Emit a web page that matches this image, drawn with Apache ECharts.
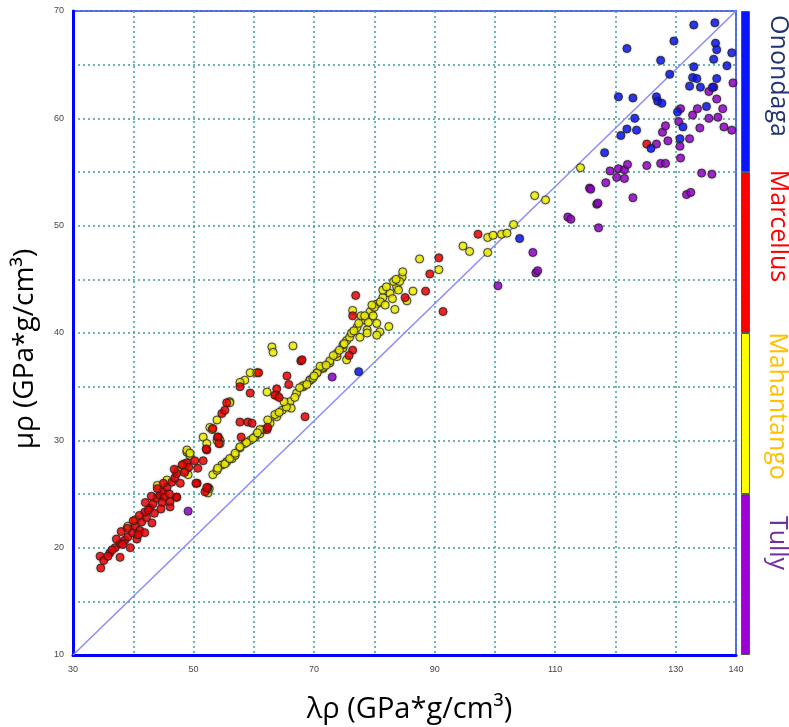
<!DOCTYPE html>
<html>
<head>
<meta charset="utf-8">
<script src="https://cdn.jsdelivr.net/npm/echarts@6/dist/echarts.min.js"></script>
<style>
  html, body { margin: 0; padding: 0; background: #fff; }
  #chart { width: 789px; height: 727px; }
</style>
</head>
<body>
<div id="chart"></div>
<script>
// formations, top to bottom as in the colour bar
const formations = ['Onondaga', 'Marcellus', 'Mahantango', 'Tully'];
const xTickLabels = [30, 50, 70, 90, 110, 130, 140];
const yTickLabels = [10, 20, 30, 40, 50, 60, 70];
// reference line, diagonal of the plot box
const refLine = [[30, 10], [140, 70]];

// [lambda*rho, mu*rho]
const mahantango = [
  [39.1, 22.0], [40.4, 22.6], [44.0, 25.8], [45.6, 26.3], [47.4, 27.2], [48.4, 27.8],
  [48.9, 28.9], [49.4, 28.6], [49.1, 26.8], [48.6, 27.2], [48.9, 29.1], [49.4, 28.8],
  [51.6, 30.3], [52.7, 31.2], [52.2, 29.7], [53.1, 31.0], [53.9, 31.9], [54.4, 30.0],
  [54.4, 29.7], [53.9, 30.0], [56.0, 33.6], [56.0, 33.5], [52.4, 25.1], [52.6, 25.5],
  [53.2, 26.8], [53.9, 27.2], [54.7, 27.7], [55.5, 28.0], [56.4, 28.3], [56.9, 28.6],
  [57.7, 29.3], [58.5, 29.7], [59.4, 30.0], [60.2, 30.3], [61.0, 30.6], [61.5, 31.0],
  [62.7, 31.6], [63.8, 32.2], [54.0, 27.4], [55.2, 27.8], [56.0, 28.3], [56.9, 28.8],
  [57.7, 29.4], [58.8, 29.8], [59.9, 30.2], [61.0, 31.0], [62.3, 31.9], [63.5, 32.4],
  [64.7, 32.8], [66.0, 33.6], [67.1, 34.4], [68.2, 35.0], [69.3, 35.6], [70.5, 36.3],
  [71.5, 36.7], [72.6, 37.2], [73.8, 37.8], [74.8, 38.6], [75.4, 39.3], [66.2, 33.0],
  [65.4, 33.1], [64.2, 32.6], [66.8, 34.0], [62.2, 34.5], [63.8, 34.2], [63.0, 38.7],
  [63.2, 38.2], [66.5, 38.8], [59.4, 36.3], [58.5, 35.6], [60.5, 36.3], [57.7, 35.4],
  [68.2, 35.1], [69.3, 35.6], [70.5, 36.3], [71.5, 36.8], [72.6, 37.4], [73.8, 38.1],
  [74.8, 38.9], [75.9, 39.6], [77.1, 40.5], [78.1, 41.2], [79.3, 42.0], [80.4, 42.7],
  [81.4, 43.3], [82.6, 43.7], [83.7, 44.3], [84.6, 45.2], [84.7, 45.7], [78.8, 40.3],
  [77.6, 39.6], [80.4, 40.9], [83.4, 42.2], [82.4, 40.6], [80.9, 40.1], [80.4, 39.8],
  [78.8, 40.0], [75.4, 37.5], [76.4, 42.1], [81.4, 44.0], [76.2, 40.0], [77.8, 41.6],
  [79.0, 41.0], [80.0, 42.4], [82.0, 44.3], [83.2, 44.8], [84.0, 44.0], [71.0, 36.9],
  [73.2, 37.9], [69.8, 35.8], [86.4, 43.9], [85.4, 43.0], [87.5, 46.9], [90.7, 45.9],
  [94.7, 48.1], [95.8, 47.6], [98.8, 48.9], [99.7, 49.1], [101.1, 49.2], [102.0, 49.3],
  [103.1, 50.1], [98.8, 47.5], [106.6, 52.8], [108.4, 52.4], [114.2, 55.4],
  [67.6, 34.9], [68.8, 35.2], [70.0, 36.0], [72.0, 37.0], [74.2, 38.4], [75.0, 39.0],
  [76.6, 40.2], [77.4, 40.9], [78.4, 41.6], [79.8, 41.6], [81.0, 42.9], [81.8, 42.6],
  [83.0, 43.2], [84.2, 44.8], [83.6, 45.0], [79.6, 42.6], [65.0, 33.6], [60.6, 30.7]
];
const marcellus = [
  [34.5, 19.2], [34.6, 18.1], [35.1, 18.8], [36.1, 19.5], [37.0, 20.0], [37.8, 19.1],
  [37.8, 20.4], [38.6, 20.7], [39.5, 20.0], [39.1, 21.0], [39.9, 21.4], [40.6, 20.8],
  [40.3, 22.0], [41.1, 21.6], [41.4, 22.4], [41.9, 21.4], [42.2, 22.8], [43.1, 22.3],
  [41.9, 23.3], [42.8, 23.7], [43.3, 24.1], [43.9, 24.6], [44.4, 24.9], [44.9, 25.2],
  [45.2, 24.7], [44.8, 24.2], [46.1, 23.8], [46.1, 24.3], [47.2, 24.7], [45.6, 25.6],
  [46.4, 26.1], [46.9, 26.5], [47.2, 26.9], [48.9, 27.9], [49.2, 27.5], [50.6, 26.0],
  [50.7, 27.4], [50.2, 28.1], [51.6, 28.1], [52.2, 29.1], [52.4, 25.6], [51.9, 25.2],
  [54.1, 30.3], [53.2, 31.1], [54.7, 32.5], [55.5, 33.5], [55.2, 32.8], [57.7, 35.0],
  [59.4, 34.4], [57.7, 31.7], [59.0, 31.7], [59.7, 31.6], [62.2, 31.0], [60.8, 36.3],
  [65.5, 36.0], [65.8, 35.2], [63.8, 34.8], [63.5, 34.2], [64.2, 34.0], [67.8, 37.4],
  [68.5, 32.2], [57.9, 30.3], [62.3, 31.2], [54.0, 30.3], [54.2, 29.7], [52.1, 29.2],
  [50.4, 26.0], [52.2, 25.6], [48.1, 27.7], [47.2, 24.7], [36.5, 19.8], [38.2, 20.3],
  [39.0, 21.8], [40.0, 22.5], [41.0, 23.0], [42.5, 23.5], [43.5, 23.2], [44.0, 25.5],
  [45.0, 26.0], [46.0, 25.0], [47.8, 26.0], [48.5, 27.0], [46.8, 27.3], [43.0, 24.8],
  [38.0, 21.5], [37.2, 20.8], [35.8, 19.2], [40.8, 21.2], [42.0, 24.2], [44.6, 23.6],
  [76.9, 43.5], [76.4, 41.6], [76.4, 38.4], [75.8, 37.9], [85.1, 43.3], [89.2, 45.5],
  [90.7, 47.0], [88.5, 43.9], [91.4, 42.0], [97.2, 49.2], [68.0, 37.5], [125.2, 57.6]
];
const tully = [
  [49.1, 23.4], [73.0, 35.9], [100.5, 44.4], [106.3, 47.5], [106.8, 45.6], [107.1, 45.8],
  [112.1, 50.8], [112.6, 50.6], [115.7, 53.5], [116.9, 52.0], [117.2, 49.8], [115.9, 53.4],
  [117.1, 52.1], [118.4, 54.0], [119.1, 55.1], [120.5, 55.3], [121.5, 55.2], [120.2, 54.5],
  [121.5, 54.4], [122.0, 55.7], [122.9, 52.6], [125.2, 55.6], [127.5, 55.8], [128.3, 55.8],
  [126.8, 57.6], [128.7, 57.9], [127.8, 58.7], [128.3, 59.3], [130.5, 59.7], [130.8, 60.9],
  [130.7, 57.4], [130.8, 56.3], [131.8, 52.9], [132.5, 53.1], [132.3, 58.1], [132.8, 60.3],
  [133.6, 60.9], [134.0, 59.1], [134.3, 54.9], [136.0, 54.8], [135.5, 60.0], [135.5, 62.5],
  [136.3, 62.9], [136.8, 61.8], [137.0, 60.1], [137.8, 60.9], [138.0, 59.2], [139.3, 58.9],
  [139.5, 63.3]
];
const onondaga = [
  [77.4, 36.4], [104.1, 48.8], [118.2, 56.8], [120.5, 62.0], [120.9, 58.4], [121.9, 59.0],
  [121.9, 66.5], [122.9, 61.9], [123.2, 60.0], [123.5, 58.9], [125.9, 57.2], [126.8, 62.0],
  [127.0, 61.6], [127.7, 61.4], [127.5, 65.4], [129.0, 64.1], [129.7, 67.2], [130.3, 60.6],
  [130.7, 58.1], [131.2, 59.2], [132.3, 63.0], [132.8, 63.8], [133.0, 64.8], [133.0, 68.7],
  [133.5, 63.7], [134.1, 62.9], [135.1, 61.1], [136.1, 62.9], [136.3, 65.5], [136.5, 68.9],
  [136.6, 67.0], [136.8, 66.4], [136.8, 63.7], [138.5, 64.9], [139.3, 66.1]
];

const colours = {
  Onondaga: '#0a14ff',
  Marcellus: '#ff0000',
  Mahantango: '#ffff00',
  Tully: '#9c00d6'
};
const textColours = {
  Onondaga: '#1f3470',
  Marcellus: '#ff0000',
  Mahantango: '#ffc000',
  Tully: '#7030a0'
};
const seriesData = {
  Onondaga: onondaga,
  Marcellus: marcellus,
  Mahantango: mahantango,
  Tully: tully
};
// where each colour bar label sits, px from the top-left of its bar segment
const labelPos = {
  Onondaga: [37, 65],
  Marcellus: [37, 54],
  Mahantango: [36, 73],
  Tully: [36, 49]
};

var myChart = echarts.init(document.getElementById('chart'));

const tickFont = { fontFamily: 'Liberation Sans', fontSize: 9, color: '#444' };
const titleFont = { fontFamily: 'Open Sans', fontSize: 28, color: '#000' };

const scatterOrder = ['Mahantango', 'Marcellus', 'Tully', 'Onondaga'];
const scatterSeries = scatterOrder.map(function (name) {
  return {
    type: 'scatter',
    name: name,
    xAxisIndex: 0,
    yAxisIndex: 0,
    symbolSize: 8,
    itemStyle: {
      color: colours[name],
      borderColor: '#222',
      borderWidth: 1,
      shadowBlur: 2,
      shadowColor: 'rgba(0,0,0,0.35)'
    },
    data: seriesData[name],
    z: 3
  };
});

// colour bar: stacked one-unit bars, bottom one first
const barSeries = formations.slice().reverse().map(function (name) {
  return {
    type: 'bar',
    name: name + '-bar',
    xAxisIndex: 1,
    yAxisIndex: 1,
    stack: 'cb',
    barWidth: '100%',
    data: [1],
    itemStyle: { color: colours[name], borderColor: '#555', borderWidth: 1 },
    label: {
      show: true,
      position: labelPos[name],
      rotate: -90,
      align: 'center',
      verticalAlign: 'middle',
      formatter: name,
      fontFamily: 'Open Sans',
      fontSize: 25,
      color: textColours[name]
    },
    labelLayout: { hideOverlap: false },
    silent: true
  };
});

var option = {
  animation: false,
  backgroundColor: '#fff',
  grid: [
    {
      left: 73, top: 11, width: 663, height: 644,
      outerBoundsMode: 'none',
      containLabel: false,
      show: true, borderColor: '#5c5cff', borderWidth: 2
    },
    { left: 741, top: 11, width: 9, height: 644, outerBoundsMode: 'none' }
  ],
  xAxis: [
    {
      type: 'value',
      gridIndex: 0,
      min: 30,
      max: 140,
      interval: 10,
      name: 'λρ (GPa*g/cm³)',
      nameLocation: 'middle',
      nameGap: 40,
      nameTextStyle: Object.assign({ padding: [0, 0, 0, 10] }, titleFont, { fontSize: 29 }),
      axisLine: { show: true, onZero: false, lineStyle: { color: '#0000ff', width: 3 } },
      axisTick: { show: false },
      axisLabel: Object.assign({
        margin: 10,
        showMaxLabel: true,
        formatter: function (v) { return xTickLabels.indexOf(v) >= 0 ? String(v) : ''; }
      }, tickFont),
      splitLine: { show: true, lineStyle: { color: '#3c9e9e', width: 1.5, type: [2, 3] } }
    },
    {
      type: 'category',
      gridIndex: 1,
      data: ['bar'],
      show: false
    }
  ],
  yAxis: [
    {
      type: 'value',
      gridIndex: 0,
      min: 10,
      max: 70,
      interval: 5,
      name: 'μρ (GPa*g/cm³)',
      nameLocation: 'middle',
      nameGap: 34,
      nameTextStyle: Object.assign({ padding: [0, 32, 0, 0] }, titleFont),
      axisLine: { show: true, onZero: false, lineStyle: { color: '#0000ff', width: 3 } },
      axisTick: { show: false },
      axisLabel: Object.assign({
        margin: 9,
        formatter: function (v) { return yTickLabels.indexOf(v) >= 0 ? String(v) : ''; }
      }, tickFont),
      splitLine: { show: true, lineStyle: { color: '#3c9e9e', width: 1.5, type: [2, 3] } }
    },
    {
      type: 'value',
      gridIndex: 1,
      min: 0,
      max: formations.length,
      show: false
    }
  ],
  series: [
    {
      type: 'line',
      xAxisIndex: 0,
      yAxisIndex: 0,
      data: refLine,
      symbol: 'none',
      lineStyle: { color: '#8a8aff', width: 1.5 },
      z: 2,
      silent: true
    }
  ].concat(scatterSeries, barSeries)
};

option && myChart.setOption(option);
</script>
</body>
</html>
